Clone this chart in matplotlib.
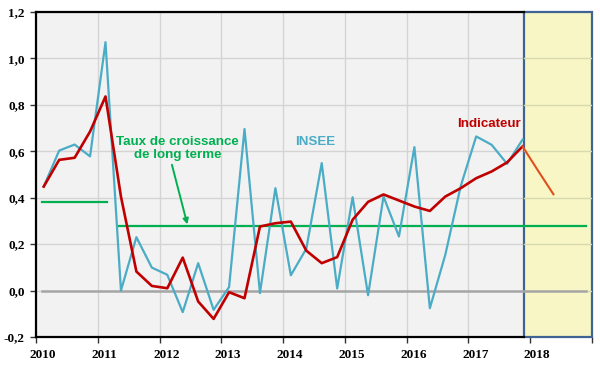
import matplotlib
matplotlib.use("Agg")
import matplotlib.pyplot as plt
import numpy as np

# ---- data ----
years = [2010, 2011, 2012, 2013, 2014, 2015, 2016, 2017]
quarters_per_year = 4
insee = [0.448, 0.603, 0.629, 0.578,
         1.070, 0.000, 0.230, 0.099,
         0.068, -0.093, 0.118, -0.083,
         0.015, 0.696, -0.011, 0.441,
         0.066, 0.180, 0.549, 0.009,
         0.402, -0.020, 0.405, 0.233,
         0.618, -0.076, 0.154, 0.450,
         0.664, 0.628, 0.546, 0.650]
indicateur = [0.448, 0.563, 0.572, 0.685,
              0.836, 0.405, 0.082, 0.020,
              0.010, 0.142, -0.047, -0.122,
              -0.007, -0.033, 0.276, 0.290,
              0.297, 0.172, 0.118, 0.144,
              0.305, 0.382, 0.414, 0.388,
              0.362, 0.343, 0.405, 0.441,
              0.484, 0.513, 0.552, 0.621]
forecast_quarters = [(2017, 4), (2018, 1), (2018, 2)]
forecast = [0.621, 0.517, 0.415]
long_term_periods = [(2010.1, 2011.15), (2011.35, 2018.9)]
long_term_rates = [0.383, 0.277]
forecast_start, forecast_end = 2017.9, 2019.0
x_ticks = list(range(2010, 2020))
x_labels = [str(y) for y in range(2010, 2019)]
y_ticks = [-0.2, 0.0, 0.2, 0.4, 0.6, 0.8, 1.0, 1.2]

# quarter positions (mid-quarter)
qx = [y + (q + 0.5) / quarters_per_year for y in years for q in range(quarters_per_year)]
fx = [y + (q - 0.5) / quarters_per_year for (y, q) in forecast_quarters]

BLUE = "#4BACC6"
RED = "#C00000"
GREEN = "#00B050"
ORANGE = "#E0501E"

fig = plt.figure(figsize=(6.0, 3.7), dpi=100)
ax = fig.add_axes([0.06, 0.0892, 0.9267, 0.8784])
ax.set_facecolor("#F2F2F2")
ax.set_xlim(2010, 2019)
ax.set_ylim(-0.2, 1.2)

# grid
ax.set_xticks(x_ticks)
ax.set_yticks(y_ticks)
ax.grid(True, which="major", color="#D4D4D4", lw=1.0, zorder=0)
ax.set_axisbelow(True)

# forecast zone
ax.axvspan(forecast_start, forecast_end, facecolor="#F7F6C4", edgecolor="#3F6494",
           lw=1.6, zorder=1, clip_on=False)
for yv in y_ticks[1:-1]:
    ax.plot([forecast_start, forecast_end], [yv, yv], color="#D9D9B0", lw=1.0, zorder=1.5)

# zero line
ax.plot([2010.1, 2018.9], [0, 0], color="#A6A6A6", lw=1.8, zorder=2)

# long-term rates
for (x0, x1), r in zip(long_term_periods, long_term_rates):
    ax.plot([x0, x1], [r, r], color=GREEN, lw=1.6, zorder=3)

# series
ax.plot(qx, insee, color=BLUE, lw=1.6, zorder=4)
ax.plot(qx, indicateur, color=RED, lw=1.9, zorder=5)
ax.plot(fx, forecast, color=ORANGE, lw=1.5, zorder=5)

# texts
ax.text(2012.29, 0.612, "Taux de croissance\nde long terme", color=GREEN,
        fontsize=9.6, fontweight="bold", family="Liberation Sans",
        ha="center", va="center", linespacing=1.2, zorder=6)
ax.annotate("", xy=(2012.45, 0.285), xytext=(2012.20, 0.542),
            arrowprops=dict(arrowstyle="-|>", color=GREEN, lw=1.4,
                            mutation_scale=8, shrinkA=0, shrinkB=0), zorder=6)
ax.text(2014.52, 0.642, "INSEE", color=BLUE, fontsize=9.6, fontweight="bold",
        family="Liberation Sans", ha="center", va="center", zorder=6)
ax.text(2017.33, 0.718, "Indicateur", color=RED, fontsize=9.6, fontweight="bold",
        family="Liberation Sans", ha="center", va="center", zorder=6)

# ticks/labels: major ticks unlabeled, labels on minor ticks slightly right
ax.set_xticklabels([""] * len(x_ticks))
ax.set_xticks([y + 0.11 for y in range(2010, 2019)], minor=True)
ax.set_xticklabels(x_labels, minor=True, fontsize=9.5, fontweight="bold",
                   family="Liberation Serif")
ax.tick_params(axis="x", which="minor", length=0, pad=9)
ax.set_yticklabels([f"{v:.1f}".replace(".", ",") for v in y_ticks],
                   fontsize=9.5, fontweight="bold", family="Liberation Serif")
ax.tick_params(axis="both", which="major", direction="out", length=4, width=1,
               color="#333333", pad=4)

for s in ["left", "bottom", "top"]:
    ax.spines[s].set_color("black")
    ax.spines[s].set_linewidth(1.6)
ax.spines["right"].set_visible(False)
ax.spines["top"].set_bounds(2010, forecast_start)
ax.spines["bottom"].set_bounds(2010, forecast_start)

fig.savefig("out.png", dpi=100)
